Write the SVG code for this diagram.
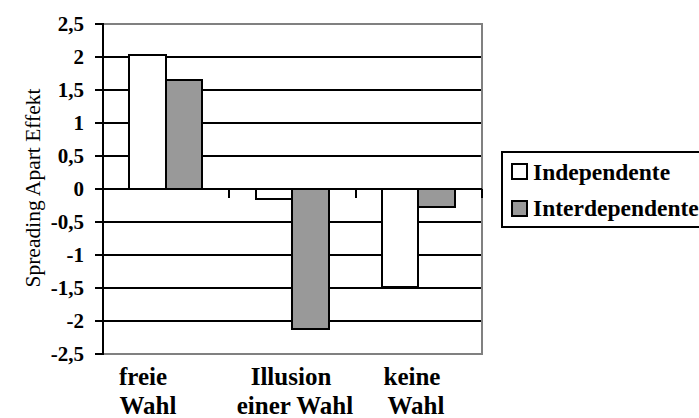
<svg xmlns="http://www.w3.org/2000/svg" width="699" height="418" viewBox="0 0 699 418">
<style>
.grid{stroke:#000;stroke-width:2;fill:none}
.border{stroke:#808080;stroke-width:2;fill:none}
.ax{stroke:#000;stroke-width:2;fill:none}
.ind{fill:#fff;stroke:#000;stroke-width:2}
.int{fill:#999;stroke:#000;stroke-width:2}
.tl{font-family:"Liberation Serif","Times New Roman",serif;font-weight:bold;font-size:21px;text-anchor:end;fill:#000}
.cl{font-family:"Liberation Serif","Times New Roman",serif;font-weight:bold;font-size:25px;text-anchor:middle;fill:#000}
.lg{font-family:"Liberation Serif","Times New Roman",serif;font-weight:bold;font-size:23.5px;fill:#000}
.yl{font-family:"Liberation Serif","Times New Roman",serif;font-size:21.5px;text-anchor:middle;fill:#000}
</style>
<rect width="699" height="418" fill="#fff"/>
<g id="plot-area">
<path class="grid" d="M103 57H482M103 90H482M103 123H482M103 156H482M103 222H482M103 255H482M103 288H482M103 321H482"/>
<path class="border" d="M103 24H482V354H103"/>
</g>
<g id="bars">
<g id="freie-wahl">
<rect class="ind" x="129" y="55" width="37" height="134"/>
<rect class="int" x="166" y="80" width="36" height="109"/>
</g>
<g id="illusion">
<rect class="ind" x="256" y="189" width="36" height="10"/>
<rect class="int" x="292" y="189" width="37" height="140"/>
</g>
<g id="keine-wahl">
<rect class="ind" x="382" y="189" width="36" height="98"/>
<rect class="int" x="418" y="189" width="37" height="18"/>
</g>
</g>
<g id="axes">
<path class="ax" d="M103 189H482M229 189V198M356 189V198M482 189V198"/>
<path class="ax" d="M103 23V355M95 24H103M95 57H103M95 90H103M95 123H103M95 156H103M95 189H103M95 222H103M95 255H103M95 288H103M95 321H103M95 354H103"/>
</g>
<g id="y-ticks">
<text class="tl" x="84" y="31">2,5</text>
<text class="tl" x="84" y="64">2</text>
<text class="tl" x="84" y="97">1,5</text>
<text class="tl" x="84" y="130">1</text>
<text class="tl" x="84" y="163">0,5</text>
<text class="tl" x="84" y="196">0</text>
<text class="tl" x="84" y="229">-0,5</text>
<text class="tl" x="84" y="262">-1</text>
<text class="tl" x="84" y="295">-1,5</text>
<text class="tl" x="84" y="328">-2</text>
<text class="tl" x="84" y="361">-2,5</text>
</g>
<g id="y-label">
<text class="yl" transform="translate(40,188) rotate(-90)">Spreading Apart Effekt</text>
</g>
<g id="categories">
<text class="cl" x="143" y="385">freie</text>
<text class="cl" x="148" y="414">Wahl</text>
<text class="cl" x="291" y="385">Illusion</text>
<text class="cl" x="295" y="414">einer Wahl</text>
<text class="cl" x="412" y="385">keine</text>
<text class="cl" x="416" y="414">Wahl</text>
</g>
<g id="legend">
<rect x="502" y="152" width="230" height="75" fill="#fff" stroke="#000" stroke-width="2"/>
<rect class="ind" x="512" y="164" width="15" height="15"/>
<text class="lg" x="533" y="180">Independente</text>
<rect class="int" x="512" y="201" width="15" height="15"/>
<text class="lg" x="533" y="216">Interdependente</text>
</g>
</svg>
